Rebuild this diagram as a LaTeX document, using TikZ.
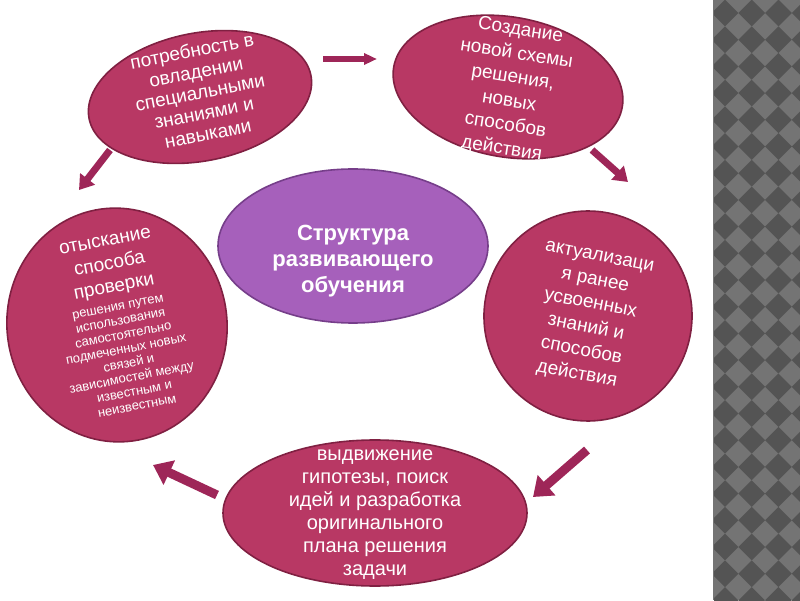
\documentclass[tikz,border=0pt]{standalone}
\usepackage{fontspec}
\setmainfont{Liberation Sans}
\usepackage{tikz}
\usetikzlibrary{arrows.meta,shapes.geometric}

\definecolor{blobfill}{RGB}{184,56,100}
\definecolor{blobline}{RGB}{128,32,66}
\definecolor{corefill}{RGB}{166,96,187}
\definecolor{coreline}{RGB}{118,62,138}
\definecolor{arrowred}{RGB}{158,38,88}
\definecolor{stripdark}{RGB}{84,84,84}
\definecolor{striplight}{RGB}{116,116,116}

\begin{document}
\begin{tikzpicture}[x=1pt,y=1pt,
    blob/.style={ellipse,draw=blobline,fill=blobfill,line width=1.6pt,inner sep=0pt},
    core node/.style={ellipse,draw=coreline,fill=corefill,line width=1.6pt,inner sep=0pt},
    blob text/.style={text=white,align=center,inner sep=0pt,font=\fontsize{19}{21}\selectfont},
    flow/.style={color=arrowred,line width=9pt,-{Triangle[width=26pt,length=18pt]}},
    small flow/.style={color=arrowred,line width=7pt,-{Triangle[width=18pt,length=14pt]}},
    thin flow/.style={color=arrowred,line width=5.5pt,-{Triangle[width=11pt,length=13pt]}}]

  \useasboundingbox (0,0) rectangle (800,600);

  % checkered strip on the right
  \fill[striplight] (713,0) rectangle (800,600);
  \begin{scope}
    \clip (714,0) rectangle (800,600);
    \foreach \i in {0,...,3}
      \foreach \j in {0,...,23}
        \fill[stripdark] ({725+26.7*\i},{587-26.7*\j})
          +(-13.35,0) -- +(0,13.35) -- +(13.35,0) -- +(0,-13.35) -- cycle;
  \end{scope}

  \node[blob,minimum width=226pt,minimum height=128pt,rotate=11] (need) at (200,503) {};
  \node[blob,minimum width=232pt,minimum height=140pt,rotate=-10] (new) at (508,513) {};
  \node[core node,minimum width=270pt,minimum height=154pt] (core) at (353,354) {};
  \node[blob,minimum width=208pt,minimum height=210pt,rotate=-8] (act) at (588,284) {};
  \node[blob,minimum width=304pt,minimum height=146pt] (hyp) at (375,87) {};
  \node[blob,minimum width=220pt,minimum height=234pt,rotate=8] (check) at (117,275) {};

  \node[blob text,rotate=11] (needtext) at (200,508)
    {потребность в\\овладении\\специальными\\знаниями и\\навыками};
  \node[blob text,rotate=-9,font=\fontsize{19}{24}\selectfont] (newtext) at (511,510)
    {Создание\\новой схемы\\решения,\\новых\\способов\\действия};
  \node[text=white,align=center,inner sep=0pt,font=\bfseries\fontsize{22}{26}\selectfont]
    (coretext) at (353,339) {Структура\\развивающего\\обучения};
  \node[blob text,rotate=-11,font=\fontsize{19}{24}\selectfont] (acttext) at (588,283)
    {актуализаци\\я ранее\\усвоенных\\знаний и\\способов\\действия};
  \node[blob text,font=\fontsize{20}{23}\selectfont] (hyptext) at (375,85)
    {выдвижение\\гипотезы, поиск\\идей и разработка\\оригинального\\плана решения\\задачи};
  \node[blob text,rotate=11,font=\fontsize{13}{14.5}\selectfont] (checktext) at (121,277)
    {{\fontsize{19}{20}\selectfont отыскание}\\[9pt]{\fontsize{19}{20}\selectfont способа}\\[9pt]
     {\fontsize{19}{20}\selectfont проверки}\\[4pt]решения путем\\использования\\самостоятельно\\
     подмеченных новых\\связей и\\зависимостей между\\известным и\\неизвестным};

  % arrows round the cycle
  \draw[thin flow] ([shift={(123,38)}]need.center) -- ([shift={(-131,28)}]new.center);
  \draw[small flow] ([shift={(84,-63)}]new.center) -- ([shift={(40,134)}]act.center);
  \draw[flow] ([shift={(-1,-134)}]act.center) -- ([shift={(158,16)}]hyp.center);
  \draw[flow] ([shift={(-158,18)}]hyp.center) -- ([shift={(36,-140)}]check.center);
  \draw[small flow] ([shift={(-90,-53)}]need.center) -- ([shift={(-38,135)}]check.center);
\end{tikzpicture}
\end{document}
